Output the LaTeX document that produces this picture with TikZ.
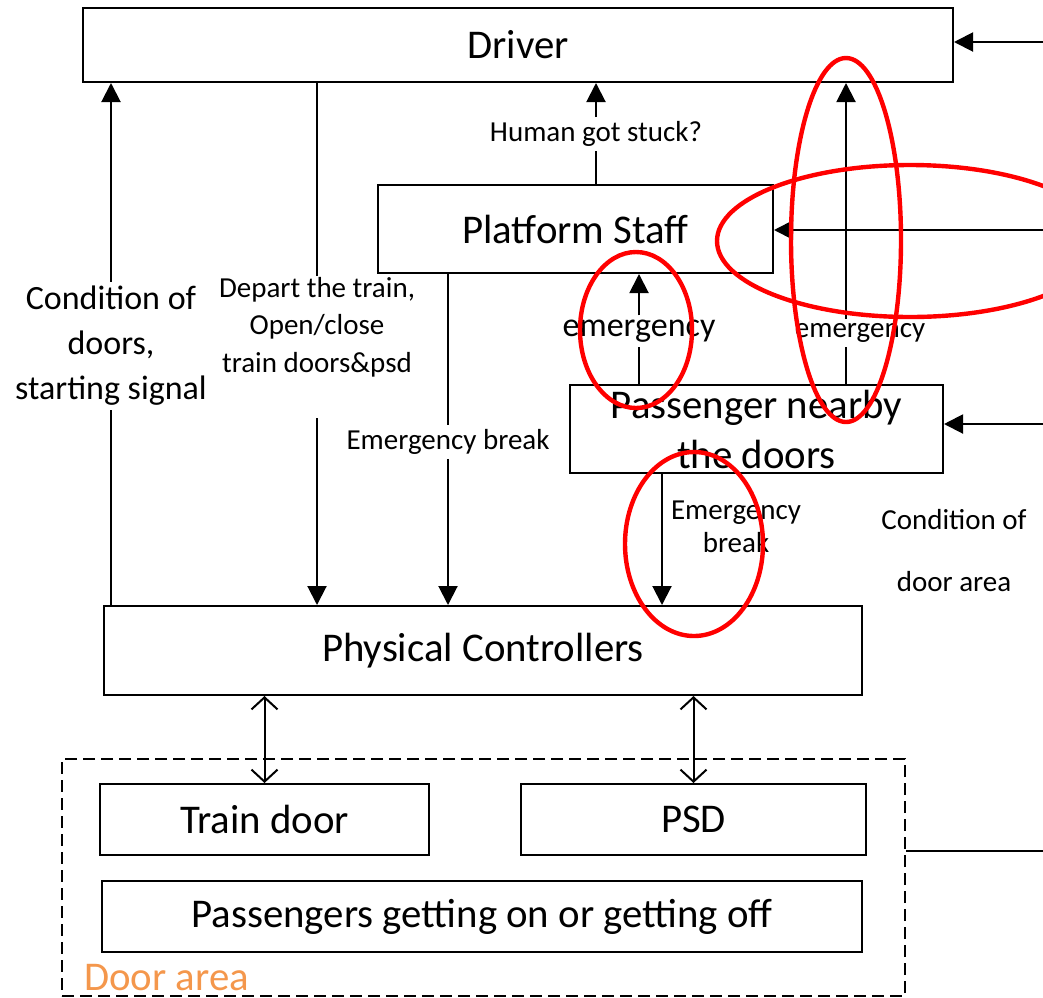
\documentclass[tikz,border=0pt]{standalone}
\usepackage{fontspec}
\setmainfont{Carlito}
\usetikzlibrary{arrows.meta}
\newcommand{\fbig}{\fontsize{20.4}{25}\selectfont}
\newcommand{\fmid}{\fontsize{17}{22.5}\selectfont}
\newcommand{\fsml}{\fontsize{14.5}{18.75}\selectfont}
\definecolor{doorOrange}{RGB}{244,151,76}
\colorlet{ringRed}{red}
\tikzset{
  box/.style   ={draw, line width=1pt, inner sep=0pt, align=center,
                 font=\fbig},
  area/.style  ={draw, line width=0.8pt, dash pattern=on 6pt off 3pt,
                 inner sep=0pt},
  lab/.style   ={fill=white, inner sep=2pt, align=center, font=\fsml},
  note/.style  ={inner sep=0pt, align=center, font=\fsml},
  flow/.style  ={-{Triangle[length=9.5pt, width=9.5pt]}, line width=1pt},
  link/.style  ={-, line width=1pt},
  both/.style  ={{Straight Barb[length=6pt, width=13pt, line width=1pt]}-{Straight Barb[length=6pt, width=13pt, line width=1pt]},
                 line width=1pt},
  ring/.style  ={draw=ringRed, line width=2.2pt},
}

\begin{document}
\begin{tikzpicture}[x=0.5pt, y=-0.5pt]
\useasboundingbox (0,0) rectangle (1043,997);
\clip (0,0) rectangle (1043,997);

% boxes
\node[box, minimum width=435pt, minimum height=37pt] (D) at (518,45) {Driver};
\node[box, minimum width=197.5pt, minimum height=44pt] (PS) at (575.5,229) {Platform Staff};
\node[box, minimum width=186.5pt, minimum height=44pt] (PN) at (756.5,429) {Passenger nearby\\the doors};
\node[box, minimum width=379pt, minimum height=44.5pt] (PC) at (483,650.5) {Physical Controllers};

% door area
\node[area, minimum width=421.5pt, minimum height=118.5pt] (DA) at (483.5,877.5) {};
\node[box, minimum width=164.5pt, minimum height=35.5pt] (TD) at (264.5,819.5) {Train door};
\node[box, minimum width=172.5pt, minimum height=35.5pt] (PSD) at (693.5,819.5) {PSD};
\node[box, minimum width=380pt, minimum height=35.5pt] (PG) at (482,916.5) {Passengers getting on or getting off};
\node[font=\fbig, text=doorOrange, anchor=base west, inner sep=0pt] (DAl) at (84,990) {Door area};

% labels
\node[lab, font=\fmid] (Lcond) at (111,346) {Condition of\\doors,\\starting signal};
\node[lab, inner sep=0.5pt] (Ldep) at (317,327) {Depart the train,\\Open/close\\train doors\&psd};
\node[lab] (Lbrk) at (448,442) {Emergency break};
\node[lab] (Lhum) at (596,134) {Human got stuck?};
\node[lab, font=\fmid] (Lem1) at (639,331) {emergency};
\node[lab] (Lem2) at (860,333) {emergency};
\node[note, font=\fontsize{14.5}{16.5}\selectfont] (Lbrk2) at (736,527) {Emergency\\break};
\node[note] (Lcda) at (954,551) {Condition of\\[12.25pt]door area};

\coordinate (xE) at (846,0);
\coordinate (xB) at (662,0);

% vertical flows
\draw[link] (PC.north -| Lcond) -- (Lcond.south);
\draw[flow] (Lcond.north) -- (D.south -| Lcond);
\draw[link] (D.south -| Ldep) -- (Ldep.north);
\draw[flow] ([yshift=-20pt]Ldep.south) -- (PC.north -| Ldep);
\draw[link] (PS.south -| Lbrk) -- (Lbrk.north);
\draw[flow] (Lbrk.south) -- (PC.north -| Lbrk);
\draw[link] (PS.north -| Lhum) -- (Lhum.south);
\draw[flow] (Lhum.north) -- (D.south -| Lhum);
\draw[link] (PN.north -| Lem1) -- (Lem1.south);
\draw[flow] (Lem1.north) -- (PS.south -| Lem1);
\draw[link] (PN.north -| xE) -- (Lem2.south -| xE);
\draw[flow] (Lem2.north -| xE) -- (D.south -| xE);
\draw[flow] (PN.south -| xB) -- (PC.north -| xB);

% controllers to doors
\draw[both] (PC.south -| TD) -- (TD.north);
\draw[both] (PC.south -| PSD) -- (PSD.north);

% inputs from the right
\coordinate (inD)  at (1043,42);
\coordinate (inPS) at (1043,230);
\coordinate (inPN) at (1043,424);
\coordinate (outDA) at (1043,851);
\draw[flow] (inD) -- (inD -| D.east);
\draw[flow] (inPS) -- (inPS -| PS.east);
\draw[flow] (inPN) -- (inPN -| PN.east);
\draw[link] (outDA -| DA.east) -- (outDA);

% red marks
\draw[ring] (846,240) ellipse [x radius=27.5pt, y radius=91pt];
\draw[ring] (910,241) ellipse [x radius=96.5pt, y radius=38pt];
\draw[ring] (636,330) ellipse [x radius=28pt, y radius=39pt];
\draw[ring] (694,544) ellipse [x radius=34.5pt, y radius=46pt];

\end{tikzpicture}
\end{document}
